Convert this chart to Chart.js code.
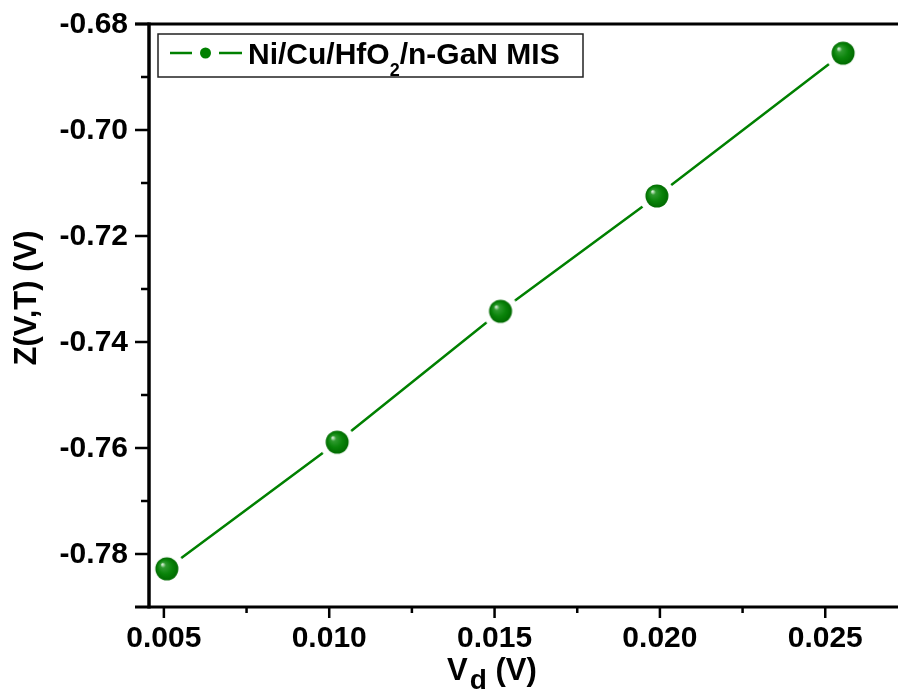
<!DOCTYPE html>
<html>
<head>
<meta charset="utf-8">
<script src="https://cdn.jsdelivr.net/npm/chart.js@4/dist/chart.umd.min.js"></script>
<style>
  html, body { margin: 0; padding: 0; background: #fff; }
  #chart { display: block; }
</style>
</head>
<body>
<canvas id="chart" width="898" height="693"></canvas>
<script>
// Z(V,T) against drain voltage
const vd = [0.00509, 0.01024, 0.01518, 0.01991, 0.02554];
const zvt = [-0.7828, -0.7589, -0.7342, -0.71245, -0.6855];
const xTicks = [0.005, 0.010, 0.015, 0.020, 0.025];
const yTicks = [-0.78, -0.76, -0.74, -0.72, -0.70, -0.68];
const seriesName = ['Ni/Cu/HfO', '2', '/n-GaN MIS'];

const FONT = '"Liberation Sans", Arial, sans-serif';
const GREEN = '#008000';

// shaded ball marker with a white halo so the line stops short of it
function makeBall(r, halo) {
    const size = Math.ceil(halo * 2 + 2);
    const c = document.createElement('canvas');
    c.width = size; c.height = size;
    const g = c.getContext('2d');
    const m = size / 2;
    g.fillStyle = '#fff';
    g.beginPath(); g.arc(m, m, halo, 0, Math.PI * 2); g.fill();
    const grad = g.createRadialGradient(m - r * 0.4, m - r * 0.4, 0.5, m, m, r);
    grad.addColorStop(0, '#d8f0d8');
    grad.addColorStop(0.2, '#2f9a2f');
    grad.addColorStop(0.6, '#0a840a');
    grad.addColorStop(1, '#006a00');
    g.fillStyle = grad;
    g.beginPath(); g.arc(m, m, r, 0, Math.PI * 2); g.fill();
    return c;
}
const ball = makeBall(11.5, 18);

// frame, tick marks and labels, axis titles and legend box
const decorations = {
    id: 'decorations',
    afterDraw(chart) {
        const ctx = chart.ctx;
        const a = chart.chartArea;
        const xs = chart.scales.x, ys = chart.scales.y;
        ctx.save();
        ctx.strokeStyle = '#000';
        ctx.lineCap = 'butt';

        // y ticks (major + minor halfway)
        ctx.lineWidth = 2.5;
        ctx.beginPath();
        yTicks.forEach((v, i) => {
            const y = ys.getPixelForValue(v);
            ctx.moveTo(a.left - 14, y); ctx.lineTo(a.left, y);
            if (i < yTicks.length - 1) {
                const ym = ys.getPixelForValue((v + yTicks[i + 1]) / 2);
                ctx.moveTo(a.left - 8, ym); ctx.lineTo(a.left, ym);
            }
        });
        // x ticks
        const xStep = xTicks[1] - xTicks[0];
        xTicks.forEach(v => {
            const x = xs.getPixelForValue(v);
            ctx.moveTo(x, a.bottom); ctx.lineTo(x, a.bottom + 11);
            const xm = xs.getPixelForValue(v + xStep / 2);
            if (xm < a.right) { ctx.moveTo(xm, a.bottom); ctx.lineTo(xm, a.bottom + 6); }
        });
        ctx.stroke();

        // frame: left, bottom, top
        ctx.lineWidth = 3.5;
        ctx.beginPath();
        ctx.moveTo(a.left, a.top - 1.5); ctx.lineTo(a.left, a.bottom + 1.5);
        ctx.stroke();
        ctx.lineWidth = 3;
        ctx.beginPath();
        ctx.moveTo(a.left - 14, a.bottom); ctx.lineTo(a.right, a.bottom);
        ctx.moveTo(a.left - 14, a.top); ctx.lineTo(a.right, a.top);
        ctx.stroke();

        // tick labels
        ctx.fillStyle = '#000';
        ctx.font = 'bold 30px ' + FONT;
        ctx.textAlign = 'right';
        ctx.textBaseline = 'middle';
        yTicks.forEach(v => ctx.fillText(v.toFixed(2), 128, ys.getPixelForValue(v) + 1));
        ctx.textAlign = 'center';
        xTicks.forEach(v => ctx.fillText(v.toFixed(3), xs.getPixelForValue(v), 639));

        // y title
        ctx.save();
        ctx.translate(27, 298);
        ctx.rotate(-Math.PI / 2);
        ctx.font = 'bold 31px ' + FONT;
        ctx.textAlign = 'center';
        ctx.textBaseline = 'middle';
        ctx.fillText('Z(V,T) (V)', 0, 0);
        ctx.restore();

        // x title with subscript
        ctx.textBaseline = 'alphabetic';
        ctx.textAlign = 'left';
        let tx = 447;
        ctx.font = 'bold 31px ' + FONT;
        ctx.fillText('V', tx, 680);
        tx += ctx.measureText('V').width + 2;
        ctx.font = 'bold 28px ' + FONT;
        ctx.fillText('d', tx, 689);
        tx += ctx.measureText('d').width;
        ctx.font = 'bold 31px ' + FONT;
        ctx.fillText(' (V)', tx, 680);

        // legend box
        ctx.lineWidth = 1.5;
        ctx.strokeStyle = '#222';
        ctx.strokeRect(158, 34, 425, 43);
        ctx.strokeStyle = GREEN;
        ctx.lineWidth = 2.5;
        ctx.beginPath();
        ctx.moveTo(170, 53); ctx.lineTo(192, 53);
        ctx.moveTo(219, 53); ctx.lineTo(242, 53);
        ctx.stroke();
        ctx.fillStyle = GREEN;
        ctx.beginPath(); ctx.arc(205.5, 53, 5.5, 0, Math.PI * 2); ctx.fill();

        ctx.fillStyle = '#000';
        let lx = 248;
        ctx.font = 'bold 30px ' + FONT;
        ctx.fillText(seriesName[0], lx, 64);
        lx += ctx.measureText(seriesName[0]).width;
        ctx.font = 'bold 18px ' + FONT;
        ctx.fillText(seriesName[1], lx, 76);
        lx += ctx.measureText(seriesName[1]).width;
        ctx.font = 'bold 30px ' + FONT;
        ctx.fillText(seriesName[2], lx, 64);
        ctx.restore();
    }
};

new Chart(document.getElementById('chart'), {
    type: 'scatter',
    data: {
        datasets: [{
            label: seriesName.join(''),
            data: vd.map((x, i) => ({ x: x, y: zvt[i] })),
            showLine: true,
            borderColor: GREEN,
            borderWidth: 2.5,
            pointStyle: ball,
            pointRadius: 18,
            pointHoverRadius: 18,
            tension: 0
        }]
    },
    options: {
        responsive: false,
        animation: false,
        events: [],
        layout: { autoPadding: false, padding: { top: 24, right: 0, left: 0, bottom: 0 } },
        plugins: { legend: { display: false }, tooltip: { enabled: false } },
        scales: {
            x: {
                type: 'linear',
                min: 0.00455,
                max: 0.0272,
                grid: { display: false, drawTicks: false },
                border: { display: false },
                afterBuildTicks: s => { s.ticks = xTicks.map(v => ({ value: v })); },
                afterFit: s => { s.height = 86; },
                ticks: { display: false }
            },
            y: {
                min: -0.79,
                max: -0.68,
                grid: { display: false, drawTicks: false },
                border: { display: false },
                afterBuildTicks: s => { s.ticks = yTicks.map(v => ({ value: v })); },
                afterFit: s => { s.width = 149; },
                ticks: { display: false }
            }
        }
    },
    plugins: [decorations]
});
</script>
</body>
</html>
